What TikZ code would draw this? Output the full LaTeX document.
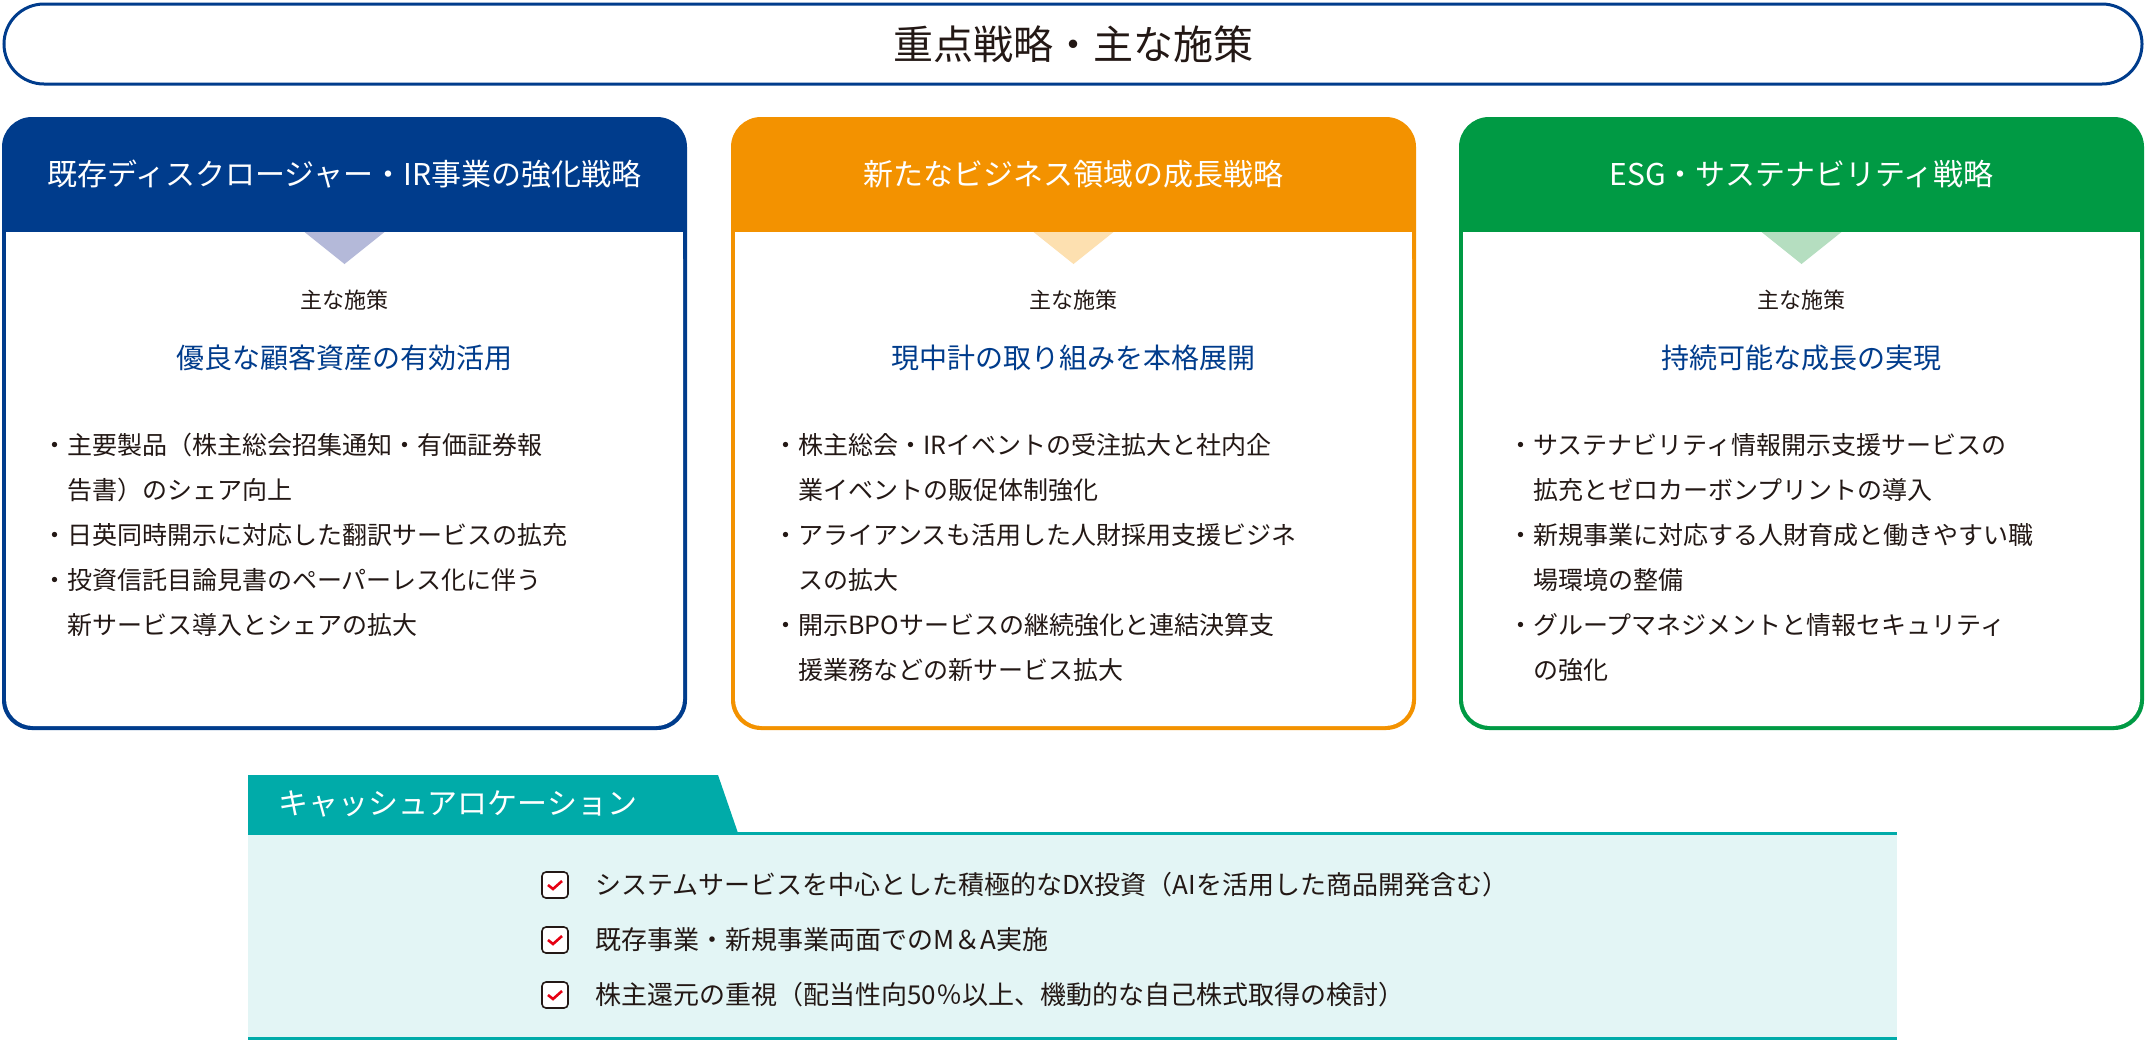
\documentclass[tikz,border=0pt]{standalone}
\usepackage{fontspec}
\usetikzlibrary{calc}
\setmainfont{Noto Sans CJK JP}
\definecolor{navy}{HTML}{003C8C}
\definecolor{orng}{HTML}{F39200}
\definecolor{grn}{HTML}{009A44}
\definecolor{teal}{HTML}{00ABA9}
\definecolor{lteal}{HTML}{E3F5F5}
\definecolor{txt}{HTML}{231815}
\definecolor{tri1}{HTML}{B4B9D9}
\definecolor{tri2}{HTML}{FDE0B0}
\definecolor{tri3}{HTML}{B5DEC0}
\definecolor{chk}{HTML}{E60012}
\begin{document}
\begin{tikzpicture}[x=1pt,y=-1pt,
  hdr/.style={text=white,font=\fontsize{30}{36}\selectfont},
  small/.style={text=txt,font=\fontsize{22}{26}\selectfont},
  sub/.style={text=navy,font=\fontsize{28}{34}\selectfont},
  bl/.style={text=txt,font=\fontsize{25}{30}\selectfont,anchor=west,inner sep=0},
  ca/.style={text=txt,font=\fontsize{26}{30}\selectfont,anchor=west,inner sep=0},
  cbox/.style={draw=txt,line width=1.6pt,fill=white,rounded corners=4pt,minimum size=26pt,inner sep=0},
]
\useasboundingbox (0,0) rectangle (2146,1042);
% title
\node[draw=navy,line width=3pt,rounded corners=40pt,minimum width=2138pt,minimum height=80pt,
  font=\fontsize{40}{48}\selectfont,text=txt] (title) at (1073,44) {重点戦略・主な施策};
% boxes
\foreach \x/\c/\t/\n in {2/navy/tri1/a,731/orng/tri2/b,1459/grn/tri3/c}{
  \fill[\c,rounded corners=30pt] (\x,117) rectangle ++(685,613);
  \fill[white,rounded corners=27pt] (\x+4,232) -- (\x+4,726) -- (\x+681,726) -- (\x+681,232) -- cycle;
  \fill[white] (\x+4,232) rectangle (\x+681,300);
  \fill[\t] (\x+342.5-40,232) -- (\x+342.5+40,232) -- (\x+342.5,264) -- cycle;
  \node[small] (s\n) at (\x+342.5,300) {主な施策};
}
\node[hdr] (ha) at (344.5,174) {既存ディスクロージャー・IR事業の強化戦略};
\node[hdr] (hb) at (1073.5,174) {新たなビジネス領域の成長戦略};
\node[hdr] (hc) at (1801.5,174) {ESG・サステナビリティ戦略};
\node[sub] (ua) at (344.5,358) {優良な顧客資産の有効活用};
\node[sub] (ub) at (1073.5,358) {現中計の取り組みを本格展開};
\node[sub] (uc) at (1801.5,358) {持続可能な成長の実現};
% bullets box a
\node[bl] (a1) at (42,445) {・主要製品（株主総会招集通知・有価証券報};
\node[bl] (a2) at (67,490) {告書）のシェア向上};
\node[bl] (a3) at (42,535) {・日英同時開示に対応した翻訳サービスの拡充};
\node[bl] (a4) at (42,580) {・投資信託目論見書のペーパーレス化に伴う};
\node[bl] (a5) at (67,625) {新サービス導入とシェアの拡大};
% box b
\node[bl] (b1) at (773,445) {・株主総会・IRイベントの受注拡大と社内企};
\node[bl] (b2) at (798,490) {業イベントの販促体制強化};
\node[bl] (b3) at (773,535) {・アライアンスも活用した人財採用支援ビジネ};
\node[bl] (b4) at (798,580) {スの拡大};
\node[bl] (b5) at (773,625) {・開示BPOサービスの継続強化と連結決算支};
\node[bl] (b6) at (798,670) {援業務などの新サービス拡大};
% box c
\node[bl] (c1) at (1508,445) {・サステナビリティ情報開示支援サービスの};
\node[bl] (c2) at (1533,490) {拡充とゼロカーボンプリントの導入};
\node[bl] (c3) at (1508,535) {・新規事業に対応する人財育成と働きやすい職};
\node[bl] (c4) at (1533,580) {場環境の整備};
\node[bl] (c5) at (1508,625) {・グループマネジメントと情報セキュリティ};
\node[bl] (c6) at (1533,670) {の強化};
% cash allocation
\fill[lteal] (248,833) rectangle (1897,1038);
\fill[teal] (248,775) -- (718,775) -- (738,833) -- (248,833) -- cycle;
\draw[teal,line width=3pt] (248,833) -- (1897,833);
\draw[teal,line width=3pt] (248,1038) -- (1897,1038);
\node[text=white,font=\fontsize{30}{36}\selectfont,anchor=west] (cat) at (275,804) {キャッシュアロケーション};
\foreach \y/\n in {885/1,940/2,995/3}{
  \node[cbox] (k\n) at (555,\y) {};
  \draw[chk,line width=2.6pt] ($(k\n)+(-7,0)$) -- ($(k\n)+(-2,4)$) -- ($(k\n)+(7,-4)$);
}
\node[ca] (t1) at (595,885) {システムサービスを中心とした積極的なDX投資（AIを活用した商品開発含む）};
\node[ca] (t2) at (595,940) {既存事業・新規事業両面でのM＆A実施};
\node[ca] (t3) at (595,995) {株主還元の重視（配当性向50％以上、機動的な自己株式取得の検討）};
\end{tikzpicture}
\end{document}
